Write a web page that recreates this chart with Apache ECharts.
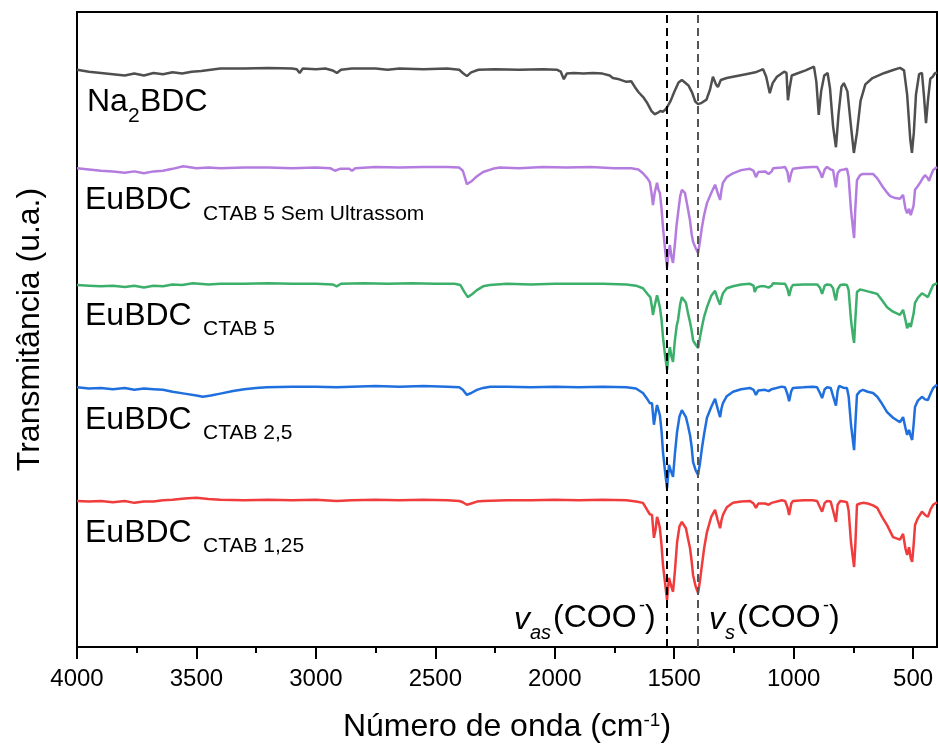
<!DOCTYPE html>
<html>
<head>
<meta charset="utf-8">
<script src="https://cdn.jsdelivr.net/npm/echarts@6/dist/echarts.min.js"></script>
<style>
  html, body { margin: 0; padding: 0; background: #fff; }
  #chart { width: 938px; height: 749px; }
</style>
</head>
<body>
<div id="chart"></div>
<script>
// wavenumber (cm-1), transmittance (u.a., curves stacked with offsets)
var na2bdc = [[4000,90.9],[3950,90.6],[3900,90.4],[3850,90.2],[3800,90.0],[3760,90.3],[3720,90.0],[3680,90.4],[3640,90.2],[3600,90.5],[3560,90.3],[3520,90.6],[3480,90.7],[3440,90.9],[3400,91.1],[3300,91.1],[3200,91.2],[3100,91.1],[3080,91.0],[3068,90.4],[3055,91.1],[3000,91.0],[2960,91.1],[2930,90.8],[2912,90.4],[2895,90.9],[2850,91.1],[2750,91.1],[2700,90.9],[2650,91.1],[2550,91.0],[2450,91.1],[2400,90.9],[2385,90.4],[2368,89.9],[2350,90.5],[2320,90.9],[2250,91.0],[2150,90.9],[2050,91.0],[1990,90.9],[1975,90.6],[1962,89.4],[1950,90.3],[1920,90.4],[1880,90.3],[1840,90.4],[1800,90.3],[1770,90.0],[1757,89.6],[1730,89.4],[1700,89.0],[1680,89.1],[1665,88.2],[1650,87.4],[1630,86.6],[1615,85.8],[1595,84.4],[1582,83.9],[1570,84.1],[1558,84.4],[1548,84.3],[1538,84.6],[1530,85.0],[1515,86.0],[1500,87.4],[1482,88.9],[1468,89.3],[1455,88.9],[1440,88.4],[1425,87.3],[1412,85.9],[1400,85.5],[1385,85.7],[1365,86.2],[1350,87.8],[1338,89.8],[1325,88.6],[1317,88.2],[1305,89.3],[1280,89.6],[1254,89.8],[1200,90.2],[1160,90.5],[1140,90.8],[1128,91.0],[1115,89.8],[1100,87.2],[1088,88.8],[1070,89.8],[1040,90.6],[1030,90.4],[1024,86.1],[1017,88.0],[1008,90.0],[980,90.4],[950,90.8],[915,91.4],[905,89.0],[895,83.8],[885,87.5],[872,90.0],[858,90.4],[848,88.0],[835,82.0],[823,78.7],[812,84.0],[800,88.2],[790,88.8],[775,87.5],[760,82.0],[748,77.8],[735,81.0],[720,86.0],[700,88.6],[670,89.6],[620,90.4],[580,90.9],[555,91.2],[538,90.8],[525,87.0],[512,80.0],[505,77.8],[497,81.0],[488,87.0],[475,90.2],[463,90.4],[455,87.0],[446,82.5],[438,86.0],[428,89.5],[418,89.8],[410,90.3],[400,90.5]];

var ctab5Sem = [[4000,75.4],[3950,75.2],[3900,75.0],[3850,74.9],[3800,74.7],[3760,74.9],[3720,74.6],[3680,74.9],[3640,75.0],[3600,75.3],[3555,75.7],[3500,75.4],[3450,75.5],[3400,75.4],[3300,75.5],[3200,75.5],[3100,75.4],[3000,75.5],[2940,75.4],[2920,75.0],[2912,74.8],[2900,75.3],[2860,75.3],[2849,75.0],[2835,75.4],[2750,75.6],[2650,75.5],[2550,75.6],[2450,75.6],[2400,75.5],[2385,75.0],[2375,73.8],[2368,72.9],[2350,73.3],[2330,74.0],[2300,74.8],[2260,75.3],[2230,75.5],[2150,75.4],[2050,75.6],[1950,75.5],[1850,75.6],[1750,75.4],[1680,75.4],[1650,75.2],[1631,74.6],[1612,73.8],[1602,73.2],[1595,71.5],[1589,69.6],[1582,71.5],[1572,73.1],[1566,72.0],[1560,71.5],[1553,69.0],[1547,66.1],[1538,62.5],[1530,59.7],[1524,62.0],[1518,63.3],[1512,61.5],[1505,60.5],[1497,63.5],[1490,66.5],[1484,68.3],[1475,71.0],[1468,72.0],[1460,71.8],[1455,71.5],[1445,69.5],[1434,67.2],[1427,65.0],[1421,63.8],[1410,62.8],[1400,62.0],[1392,64.0],[1384,66.1],[1375,68.0],[1363,69.9],[1345,71.5],[1329,72.8],[1318,71.5],[1308,70.4],[1302,72.0],[1296,73.1],[1280,74.0],[1254,74.6],[1220,75.1],[1183,75.3],[1168,75.0],[1158,74.0],[1148,74.8],[1141,75.0],[1120,74.9],[1105,74.5],[1099,74.3],[1092,74.9],[1086,75.4],[1050,75.5],[1036,75.6],[1026,74.8],[1019,73.2],[1010,74.7],[1003,75.3],[960,75.5],[920,75.6],[902,75.6],[890,74.8],[881,73.9],[870,75.2],[860,75.6],[845,75.2],[835,75.1],[828,73.5],[823,72.4],[816,74.6],[805,75.1],[790,75.2],[777,75.3],[770,74.0],[760,68.8],[752,66.0],[747,64.4],[742,69.0],[735,73.5],[722,74.3],[710,74.5],[690,74.5],[668,74.5],[650,73.8],[626,72.4],[610,71.6],[596,71.0],[575,70.7],[555,70.6],[542,71.2],[532,69.0],[525,68.3],[517,69.0],[510,68.0],[504,67.7],[498,69.5],[492,72.0],[480,72.6],[471,73.1],[460,73.8],[450,74.3],[440,73.9],[433,73.4],[425,74.3],[416,75.1],[408,75.4],[400,75.6]];

var ctab5 = [[4000,57.0],[3950,56.9],[3900,56.8],[3850,56.9],[3800,56.7],[3760,56.9],[3720,56.6],[3680,56.9],[3640,56.8],[3600,57.1],[3560,57.0],[3515,57.3],[3450,57.1],[3400,57.2],[3300,57.2],[3200,57.3],[3100,57.2],[3000,57.2],[2930,57.1],[2913,56.8],[2895,57.2],[2800,57.3],[2700,57.2],[2600,57.3],[2500,57.2],[2420,57.2],[2395,57.0],[2380,56.0],[2364,55.1],[2345,55.6],[2326,56.2],[2300,56.8],[2272,57.0],[2200,57.2],[2100,57.1],[2000,57.2],[1900,57.2],[1800,57.2],[1700,57.1],[1660,56.9],[1631,56.5],[1610,55.5],[1600,55.1],[1593,53.5],[1589,52.3],[1583,53.5],[1572,55.4],[1566,54.5],[1560,53.5],[1553,51.5],[1547,48.8],[1538,45.8],[1530,43.6],[1524,46.0],[1518,47.2],[1512,45.8],[1505,44.9],[1498,48.0],[1490,50.5],[1484,51.5],[1475,54.0],[1468,55.1],[1460,54.9],[1451,54.2],[1442,52.5],[1434,51.2],[1427,49.8],[1421,48.3],[1410,47.6],[1400,47.1],[1392,48.8],[1384,50.4],[1375,52.0],[1363,53.5],[1345,55.3],[1329,56.1],[1318,54.8],[1308,53.9],[1302,55.0],[1296,55.7],[1280,56.5],[1254,56.8],[1220,57.1],[1183,57.2],[1168,56.9],[1163,55.9],[1155,56.6],[1141,56.8],[1120,56.8],[1105,56.6],[1099,56.3],[1092,56.9],[1086,57.3],[1050,57.2],[1036,57.2],[1026,56.4],[1019,55.3],[1010,56.6],[1003,57.0],[960,57.1],[920,57.1],[902,57.1],[890,56.6],[881,55.6],[870,56.9],[860,57.1],[845,57.0],[835,56.5],[828,55.2],[823,54.6],[816,56.3],[805,57.0],[790,57.1],[777,57.0],[770,56.2],[760,51.5],[752,49.0],[747,47.9],[742,51.5],[735,55.9],[722,56.3],[710,56.2],[690,56.0],[668,55.8],[650,55.6],[630,54.6],[609,53.5],[584,52.8],[555,52.3],[542,53.1],[532,51.5],[525,50.2],[517,51.0],[510,50.4],[504,50.2],[498,52.5],[492,54.2],[480,55.0],[463,55.7],[450,55.4],[438,55.1],[428,56.0],[416,57.0],[400,57.3]];

var ctab25 = [[4000,40.9],[3950,40.7],[3900,40.8],[3850,40.6],[3800,40.8],[3760,40.5],[3720,40.7],[3680,40.6],[3640,40.5],[3600,40.2],[3550,39.9],[3500,39.6],[3473,39.4],[3440,39.6],[3400,39.9],[3347,40.3],[3300,40.6],[3250,40.8],[3206,40.9],[3100,41.0],[3000,41.0],[2913,40.9],[2850,41.0],[2750,41.1],[2650,41.0],[2550,41.1],[2450,41.0],[2400,40.9],[2385,40.5],[2368,39.7],[2350,40.0],[2326,40.5],[2300,40.8],[2270,41.0],[2200,41.0],[2100,40.9],[2000,41.0],[1900,40.9],[1800,41.0],[1700,40.9],[1660,40.7],[1631,40.0],[1612,39.0],[1602,38.4],[1593,38.4],[1585,35.0],[1578,36.8],[1572,38.1],[1566,37.3],[1560,36.5],[1553,34.0],[1547,30.7],[1538,27.5],[1530,25.0],[1522,28.7],[1512,27.5],[1505,26.8],[1497,30.5],[1488,33.9],[1478,36.3],[1468,37.3],[1460,37.0],[1451,36.2],[1442,34.8],[1434,33.4],[1427,31.5],[1421,29.1],[1410,27.8],[1400,27.1],[1392,29.0],[1384,31.3],[1375,33.5],[1363,36.1],[1345,37.8],[1329,39.1],[1318,37.5],[1308,36.2],[1302,37.6],[1296,38.4],[1280,39.5],[1254,40.2],[1220,40.6],[1183,40.8],[1168,40.5],[1158,39.7],[1148,40.4],[1141,40.6],[1120,40.5],[1105,40.3],[1099,40.2],[1092,40.6],[1086,40.8],[1050,41.0],[1036,40.9],[1026,39.8],[1019,38.7],[1010,40.3],[1003,40.8],[960,40.9],[920,41.0],[902,40.9],[890,40.0],[881,39.2],[870,40.6],[860,40.9],[845,40.8],[835,39.5],[823,38.0],[816,40.3],[810,41.1],[790,40.8],[777,40.8],[770,39.5],[760,35.0],[752,32.5],[747,31.0],[742,35.0],[735,39.7],[722,40.3],[710,40.5],[690,40.2],[668,40.0],[650,39.4],[630,38.3],[609,37.0],[584,36.1],[555,35.4],[542,36.2],[532,34.5],[525,33.4],[517,34.2],[510,33.2],[504,32.6],[498,35.0],[492,37.8],[480,38.8],[463,39.4],[450,39.0],[438,38.9],[428,39.8],[416,40.8],[400,41.3]];

var ctab125 = [[4000,23.0],[3950,22.9],[3900,23.0],[3850,22.8],[3800,23.0],[3760,22.7],[3720,22.9],[3680,22.9],[3640,23.1],[3600,23.2],[3550,23.4],[3500,23.5],[3450,23.3],[3400,23.2],[3300,23.1],[3200,23.2],[3100,23.1],[3000,23.2],[2913,23.0],[2850,23.1],[2750,23.2],[2650,23.1],[2550,23.2],[2450,23.1],[2400,23.0],[2385,22.8],[2368,22.4],[2350,22.6],[2326,22.9],[2300,23.0],[2200,23.1],[2100,23.1],[2000,23.2],[1900,23.1],[1800,23.2],[1700,23.1],[1660,22.9],[1631,22.7],[1612,21.5],[1602,20.9],[1593,20.8],[1585,17.2],[1578,18.5],[1572,20.5],[1566,19.8],[1560,18.7],[1553,16.0],[1547,12.9],[1538,10.0],[1530,7.4],[1522,10.9],[1512,9.5],[1505,8.7],[1497,12.0],[1488,16.5],[1478,19.0],[1468,19.7],[1460,19.5],[1451,18.7],[1442,17.0],[1434,15.6],[1427,13.5],[1421,11.3],[1410,9.5],[1400,8.5],[1392,10.5],[1384,12.9],[1375,15.5],[1363,18.1],[1345,20.5],[1329,21.6],[1318,20.0],[1308,18.7],[1302,20.0],[1296,20.8],[1280,22.0],[1254,22.7],[1220,22.9],[1183,23.0],[1168,22.6],[1158,21.9],[1148,22.6],[1141,22.8],[1120,22.6],[1105,22.4],[1099,22.2],[1092,22.7],[1086,23.0],[1050,23.1],[1036,23.0],[1026,22.0],[1019,20.8],[1010,22.6],[1003,23.0],[960,23.1],[920,23.1],[902,23.0],[890,22.0],[881,21.3],[870,22.7],[860,23.0],[845,22.9],[835,21.5],[823,19.7],[816,22.4],[805,23.0],[790,22.9],[777,22.8],[770,21.5],[760,16.5],[752,14.0],[747,12.6],[742,16.0],[735,22.4],[722,22.6],[710,22.7],[690,22.6],[668,22.3],[650,21.9],[630,20.5],[609,19.2],[584,17.3],[555,16.9],[542,17.8],[532,15.5],[525,14.5],[517,15.7],[510,14.0],[504,13.4],[498,16.0],[492,19.2],[480,20.3],[463,21.3],[450,20.8],[438,20.5],[428,21.6],[416,22.4],[400,22.8]];

var majorTicks = [500, 1000, 1500, 2000, 2500, 3000, 3500, 4000];
var minorTicks = [750, 1250, 1750, 2250, 2750, 3250, 3750];
var bandLines = [1530, 1400]; // vas(COO-), vs(COO-)

var FONT = 'Liberation Sans, Arial, sans-serif';

function txt(x, y, text, size, italic) {
  return {
    type: 'text',
    x: x,
    y: y,
    silent: true,
    z: 100,
    style: {
      text: text,
      font: (italic ? 'italic ' : '') + size + 'px ' + FONT,
      fill: '#000',
      textAlign: 'left',
      verticalAlign: 'middle'
    }
  };
}

function line(name, data, color) {
  return {
    name: name,
    type: 'line',
    data: data,
    showSymbol: false,
    animation: false,
    lineStyle: { color: color, width: 2.5 },
    itemStyle: { color: color }
  };
}

var chart = echarts.init(document.getElementById('chart'));

var series = [
  line('Na2BDC', na2bdc, '#4f4f4f'),
  line('EuBDC CTAB 5 Sem Ultrassom', ctab5Sem, '#b57ce0'),
  line('EuBDC CTAB 5', ctab5, '#3caf6a'),
  line('EuBDC CTAB 2,5', ctab25, '#1f6fde'),
  line('EuBDC CTAB 1,25', ctab125, '#f03c3c')
];
series[4].markLine = {
  silent: true,
  symbol: 'none',
  label: { show: false },
  animation: false,
  data: [
    { xAxis: bandLines[0], lineStyle: { color: '#000', width: 2, type: [8, 5] } },
    { xAxis: bandLines[1], lineStyle: { color: '#555', width: 2, type: [8, 5] } }
  ]
};

chart.setOption({
  animation: false,
  grid: {
    left: 77, right: 1, top: 12, bottom: 102,
    show: true, borderColor: '#000', borderWidth: 2, backgroundColor: 'transparent'
  },
  xAxis: [
    {
      type: 'value',
      min: 400,
      max: 4000,
      inverse: true,
      name: '{t|Número de onda (cm}{s|-1}{t|)}',
      nameLocation: 'middle',
      nameGap: 64,
      nameTextStyle: {
        rich: {
          t: { fontSize: 32, fontFamily: FONT, color: '#000' },
          s: { fontSize: 19, fontFamily: FONT, color: '#000', verticalAlign: 'top' }
        }
      },
      axisLine: { show: true, onZero: false, lineStyle: { color: '#000', width: 2 } },
      axisTick: { show: true, customValues: majorTicks, length: 12, lineStyle: { color: '#000', width: 2 } },
      axisLabel: {
        customValues: majorTicks,
        fontSize: 24,
        fontFamily: FONT,
        color: '#000',
        margin: 20,
        formatter: function (v) { return String(v); }
      },
      splitLine: { show: false }
    },
    {
      type: 'value',
      min: 400,
      max: 4000,
      inverse: true,
      position: 'bottom',
      axisLine: { show: false },
      axisTick: { show: true, customValues: minorTicks, length: 6, lineStyle: { color: '#000', width: 2 } },
      axisLabel: { show: false },
      splitLine: { show: false }
    }
  ],
  yAxis: {
    type: 'value',
    min: 0,
    max: 100,
    name: 'Transmitância (u.a.)',
    nameLocation: 'middle',
    nameGap: 31,
    nameTextStyle: { fontSize: 32, fontFamily: FONT, color: '#000' },
    axisLine: { show: true, lineStyle: { color: '#000', width: 2 } },
    axisTick: { show: false },
    axisLabel: { show: false },
    splitLine: { show: false }
  },
  series: series,
  graphic: [
    txt(87, 102, 'Na', 32),
    txt(128, 116, '2', 21),
    txt(140, 102, 'BDC', 32),

    txt(85, 200, 'EuBDC', 32),
    txt(203, 214, 'CTAB 5 Sem Ultrassom', 21),
    txt(85, 316, 'EuBDC', 32),
    txt(203, 329, 'CTAB 5', 21),
    txt(85, 420, 'EuBDC', 32),
    txt(203, 433, 'CTAB 2,5', 21),
    txt(85, 533, 'EuBDC', 32),
    txt(203, 546, 'CTAB 1,25', 21),

    txt(514, 620, 'v', 32, true),
    txt(530, 633, 'as', 20, true),
    txt(553, 618, '(COO', 32),
    txt(639, 606, '-', 18),
    txt(645, 618, ')', 32),

    txt(709, 620, 'v', 32, true),
    txt(725, 633, 's', 20, true),
    txt(737, 618, '(COO', 32),
    txt(823, 606, '-', 18),
    txt(829, 618, ')', 32)
  ]
});
</script>
</body>
</html>
